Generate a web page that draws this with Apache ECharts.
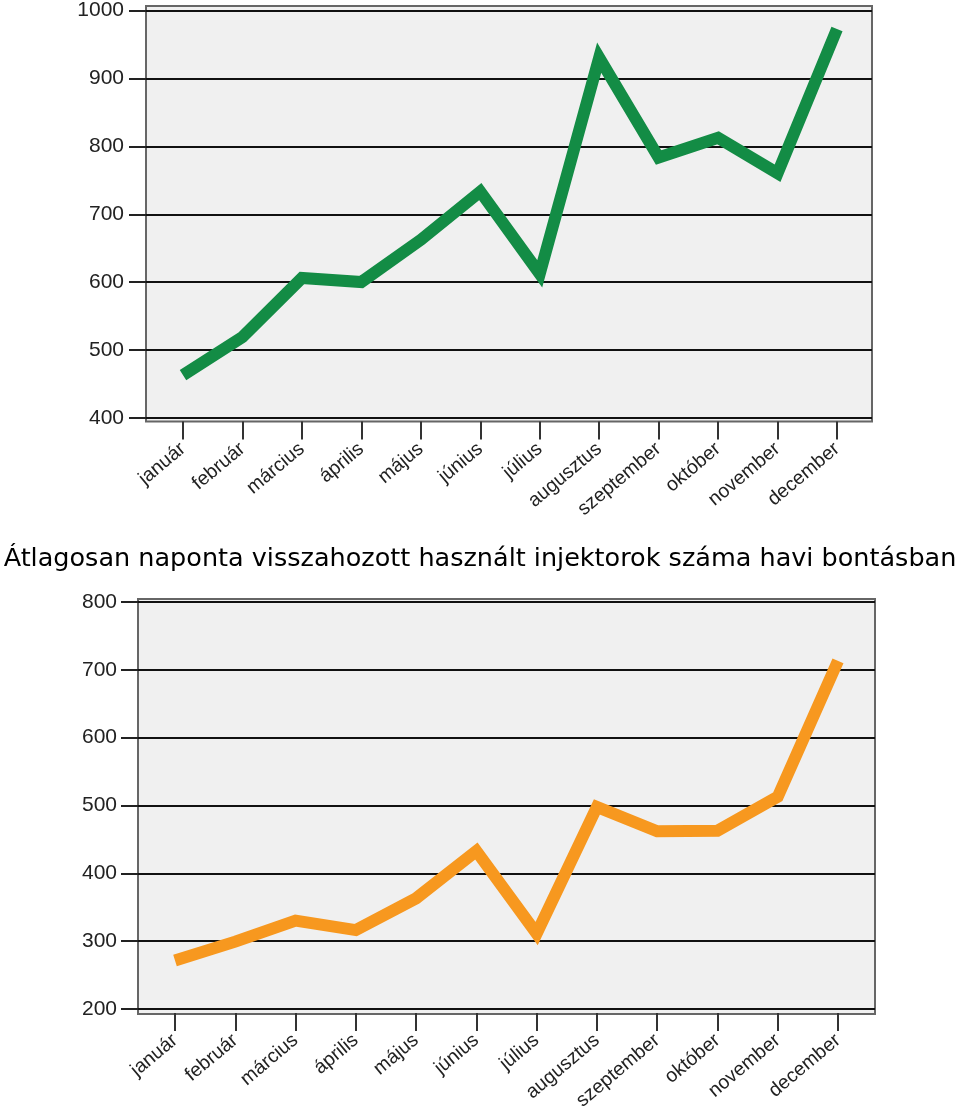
<!DOCTYPE html>
<html>
<head>
<meta charset="utf-8">
<script src="https://cdn.jsdelivr.net/npm/echarts@6/dist/echarts.min.js"></script>
<style>
  html, body { margin: 0; padding: 0; background: #fff; }
  #chart { width: 960px; height: 1113px; }
</style>
</head>
<body>
<div id="chart"></div>
<script>
// havi adatok
const months = ['január', 'február', 'március', 'április', 'május', 'június',
  'július', 'augusztus', 'szeptember', 'október', 'november', 'december'];
const greenValues = [463, 519, 606, 600, 662, 733, 612, 930, 783, 812, 760, 972];
const orangeValues = [270, 298, 329, 315, 362, 432, 310, 497, 461, 462, 512, 713];
const topRange = [400, 1000];
const bottomRange = [200, 800];
const titleText = 'Átlagosan naponta visszahozott használt injektorok száma havi bontásban';

const labelFont = '"Liberation Sans", Arial, sans-serif';
const H = 1113, W = 960;

// one panel = box grid + scale grid + data grid
function panel(p) {
  const grids = [
    { left: p.boxL, right: W - p.boxR, top: p.boxT, bottom: H - p.boxB, show: true,
      backgroundColor: '#f0f0f0', borderColor: '#666', borderWidth: 2 },
    { left: p.boxL, right: W - p.boxR, top: p.yTop, bottom: H - p.yBot },
    { left: p.x0, right: W - p.x1, top: p.yTop, bottom: H - p.yBot }
  ];
  const xAxes = [
    { type: 'value', show: false },
    { type: 'value', show: false },
    {
      type: 'category', data: months, boundaryGap: false, offset: p.boxB - p.yBot, z: 3,
      axisLine: { show: false },
      axisTick: { show: true, length: 18, lineStyle: { color: '#333', width: 2 } },
      axisLabel: { rotate: 40, margin: 25, fontSize: 19.5, fontFamily: labelFont, color: '#222' }
    }
  ];
  const yAxes = [
    { type: 'value', show: false },
    {
      type: 'value', min: p.range[0], max: p.range[1], interval: 100, z: 3,
      axisLine: { show: false },
      axisTick: { show: true, length: 17, lineStyle: { color: '#222', width: 2 } },
      axisLabel: { margin: p.labelMargin, fontSize: 21, fontFamily: labelFont, color: '#222',
        formatter: (v) => String(v) },
      splitLine: { show: true, lineStyle: { color: '#111', width: 2 } }
    },
    { type: 'value', min: p.range[0], max: p.range[1], show: false }
  ];
  return { grids, xAxes, yAxes };
}

const upperPanel = panel({ boxL: 146, boxR: 872, boxT: 6, boxB: 421.5, yTop: 10, yBot: 418,
  x0: 183, x1: 837, range: topRange, labelMargin: 22 });
const lowerPanel = panel({ boxL: 138, boxR: 875, boxT: 599, boxB: 1014, yTop: 602, yBot: 1009,
  x0: 175, x1: 838, range: bottomRange, labelMargin: 21 });

const myChart = echarts.init(document.getElementById('chart'));
const option = {
  animation: false,
  title: {
    text: titleText, left: 'center', top: 541,
    textStyle: { fontFamily: '"DejaVu Sans", Verdana, sans-serif', fontSize: 25.5, fontWeight: 'normal', color: '#000' }
  },
  grid: upperPanel.grids.concat(lowerPanel.grids).map((g, i) => Object.assign({ z: i % 3 === 0 ? -1 : 0 }, g)),
  xAxis: upperPanel.xAxes.concat(lowerPanel.xAxes).map((a, i) => Object.assign({ gridIndex: i }, a)),
  yAxis: upperPanel.yAxes.concat(lowerPanel.yAxes).map((a, i) => Object.assign({ gridIndex: i }, a)),
  series: [
    {
      type: 'line', xAxisIndex: 2, yAxisIndex: 2, data: greenValues,
      showSymbol: false, clip: false, z: 5,
      lineStyle: { color: '#138c45', width: 12, join: 'miter', cap: 'butt' }
    },
    {
      type: 'line', xAxisIndex: 5, yAxisIndex: 5, data: orangeValues,
      showSymbol: false, clip: false, z: 5,
      lineStyle: { color: '#f7981f', width: 12, join: 'miter', cap: 'butt' }
    }
  ]
};
option && myChart.setOption(option);
</script>
</body>
</html>
